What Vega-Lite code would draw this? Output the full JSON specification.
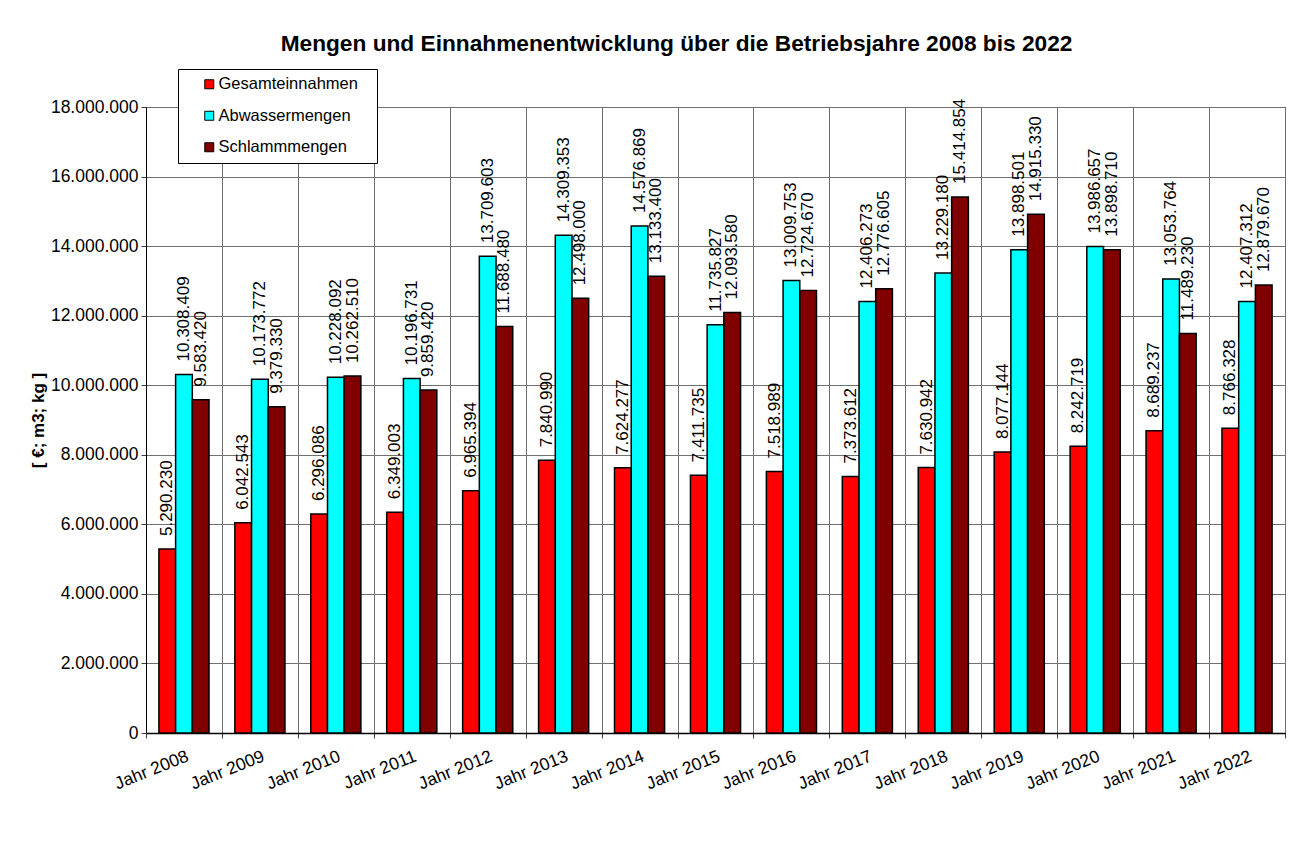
{
  "$schema": "https://vega.github.io/schema/vega-lite/v6.json",
  "width": 1139,
  "height": 626,
  "autosize": {"type": "none"},
  "padding": {"left": 146, "top": 107, "right": 27, "bottom": 117},
  "background": "white",
  "title": {
    "text": "Mengen und Einnahmenentwicklung über die Betriebsjahre 2008 bis 2022",
    "font": "Liberation Sans",
    "fontSize": 22.7,
    "fontWeight": "bold",
    "color": "black",
    "anchor": "middle",
    "offset": 13,
    "dx": -39
  },
  "data": {
    "values": [
      {"year": "Jahr 2008", "series": "Gesamteinnahmen", "value": 5290230},
      {"year": "Jahr 2008", "series": "Abwassermengen", "value": 10308409},
      {"year": "Jahr 2008", "series": "Schlammmengen", "value": 9583420},
      {"year": "Jahr 2009", "series": "Gesamteinnahmen", "value": 6042543},
      {"year": "Jahr 2009", "series": "Abwassermengen", "value": 10173772},
      {"year": "Jahr 2009", "series": "Schlammmengen", "value": 9379330},
      {"year": "Jahr 2010", "series": "Gesamteinnahmen", "value": 6296086},
      {"year": "Jahr 2010", "series": "Abwassermengen", "value": 10228092},
      {"year": "Jahr 2010", "series": "Schlammmengen", "value": 10262510},
      {"year": "Jahr 2011", "series": "Gesamteinnahmen", "value": 6349003},
      {"year": "Jahr 2011", "series": "Abwassermengen", "value": 10196731},
      {"year": "Jahr 2011", "series": "Schlammmengen", "value": 9859420},
      {"year": "Jahr 2012", "series": "Gesamteinnahmen", "value": 6965394},
      {"year": "Jahr 2012", "series": "Abwassermengen", "value": 13709603},
      {"year": "Jahr 2012", "series": "Schlammmengen", "value": 11688480},
      {"year": "Jahr 2013", "series": "Gesamteinnahmen", "value": 7840990},
      {"year": "Jahr 2013", "series": "Abwassermengen", "value": 14309353},
      {"year": "Jahr 2013", "series": "Schlammmengen", "value": 12498000},
      {"year": "Jahr 2014", "series": "Gesamteinnahmen", "value": 7624277},
      {"year": "Jahr 2014", "series": "Abwassermengen", "value": 14576869},
      {"year": "Jahr 2014", "series": "Schlammmengen", "value": 13133400},
      {"year": "Jahr 2015", "series": "Gesamteinnahmen", "value": 7411735},
      {"year": "Jahr 2015", "series": "Abwassermengen", "value": 11735827},
      {"year": "Jahr 2015", "series": "Schlammmengen", "value": 12093580},
      {"year": "Jahr 2016", "series": "Gesamteinnahmen", "value": 7518989},
      {"year": "Jahr 2016", "series": "Abwassermengen", "value": 13009753},
      {"year": "Jahr 2016", "series": "Schlammmengen", "value": 12724670},
      {"year": "Jahr 2017", "series": "Gesamteinnahmen", "value": 7373612},
      {"year": "Jahr 2017", "series": "Abwassermengen", "value": 12406273},
      {"year": "Jahr 2017", "series": "Schlammmengen", "value": 12776605},
      {"year": "Jahr 2018", "series": "Gesamteinnahmen", "value": 7630942},
      {"year": "Jahr 2018", "series": "Abwassermengen", "value": 13229180},
      {"year": "Jahr 2018", "series": "Schlammmengen", "value": 15414854},
      {"year": "Jahr 2019", "series": "Gesamteinnahmen", "value": 8077144},
      {"year": "Jahr 2019", "series": "Abwassermengen", "value": 13898501},
      {"year": "Jahr 2019", "series": "Schlammmengen", "value": 14915330},
      {"year": "Jahr 2020", "series": "Gesamteinnahmen", "value": 8242719},
      {"year": "Jahr 2020", "series": "Abwassermengen", "value": 13986657},
      {"year": "Jahr 2020", "series": "Schlammmengen", "value": 13898710},
      {"year": "Jahr 2021", "series": "Gesamteinnahmen", "value": 8689237},
      {"year": "Jahr 2021", "series": "Abwassermengen", "value": 13053764},
      {"year": "Jahr 2021", "series": "Schlammmengen", "value": 11489230},
      {"year": "Jahr 2022", "series": "Gesamteinnahmen", "value": 8766328},
      {"year": "Jahr 2022", "series": "Abwassermengen", "value": 12407312},
      {"year": "Jahr 2022", "series": "Schlammmengen", "value": 12879670}
    ]
  },
  "encoding": {
    "x": {
      "field": "year",
      "type": "nominal",
      "sort": null,
      "scale": {"paddingInner": 0, "paddingOuter": 0},
      "axis": {
        "title": null,
        "labelAngle": -22,
        "labelAlign": "right",
        "labelBaseline": "top",
        "labelFont": "Liberation Sans",
        "labelFontSize": 17.5,
        "labelColor": "black",
        "labelPadding": 9,
        "labelDx": -4,
        "tickBand": "extent",
        "ticks": true,
        "tickSize": 5,
        "tickColor": "#404040",
        "grid": true,
        "gridColor": "#707070",
        "gridWidth": 1,
        "domainColor": "black",
        "domainWidth": 1.5
      }
    },
    "xOffset": {
      "field": "series",
      "type": "nominal",
      "sort": ["Gesamteinnahmen", "Abwassermengen", "Schlammmengen"],
      "scale": {"paddingInner": 0, "paddingOuter": 0.773}
    },
    "y": {
      "field": "value",
      "type": "quantitative",
      "scale": {"domain": [0, 18000000], "nice": false},
      "axis": {
        "values": [0, 2000000, 4000000, 6000000, 8000000, 10000000, 12000000, 14000000, 16000000, 18000000],
        "format": ",d",
        "title": "[ €; m3; kg ]",
        "titleFont": "Liberation Sans",
        "titleFontSize": 17,
        "titleFontWeight": "bold",
        "titleColor": "black",
        "titlePadding": 3,
        "labelFont": "Liberation Sans",
        "labelFontSize": 17.5,
        "labelColor": "black",
        "labelPadding": 3,
        "ticks": true,
        "tickSize": 5,
        "tickColor": "#404040",
        "grid": true,
        "gridColor": "#707070",
        "gridWidth": 1,
        "domainColor": "black"
      }
    }
  },
  "layer": [
    {
      "mark": {"type": "bar", "stroke": "black", "strokeWidth": 1.5},
      "encoding": {
        "color": {
          "field": "series",
          "type": "nominal",
          "sort": ["Gesamteinnahmen", "Abwassermengen", "Schlammmengen"],
          "scale": {
            "domain": ["Gesamteinnahmen", "Abwassermengen", "Schlammmengen"],
            "range": ["#FF0000", "#00FFFF", "#800000"]
          },
          "legend": {
            "title": null,
            "orient": "none",
            "legendX": 32,
            "legendY": -38,
            "padding": 7,
            "symbolOffset": 16,
            "rowPadding": 14.5,
            "labelFont": "Liberation Sans",
            "labelFontSize": 16.5,
            "labelColor": "black",
            "labelOffset": 1,
            "labelLimit": 300,
            "labelExpr": "datum.label + '\u2800'",
            "symbolType": "square",
            "symbolSize": 81,
            "symbolStrokeColor": "black",
            "symbolStrokeWidth": 1,
            "fillColor": "white",
            "strokeColor": "black"
          }
        }
      }
    },
    {
      "mark": {
        "type": "text",
        "angle": -90,
        "align": "left",
        "baseline": "middle",
        "dx": 13,
        "font": "Liberation Sans",
        "fontSize": 17,
        "color": "black"
      },
      "encoding": {
        "text": {"field": "value", "type": "quantitative", "format": ",d"}
      }
    }
  ],
  "config": {
    "locale": {
      "number": {"decimal": ",", "thousands": ".", "grouping": [3], "currency": ["", " €"]}
    },
    "view": {"stroke": "black", "strokeWidth": 1}
  }
}
